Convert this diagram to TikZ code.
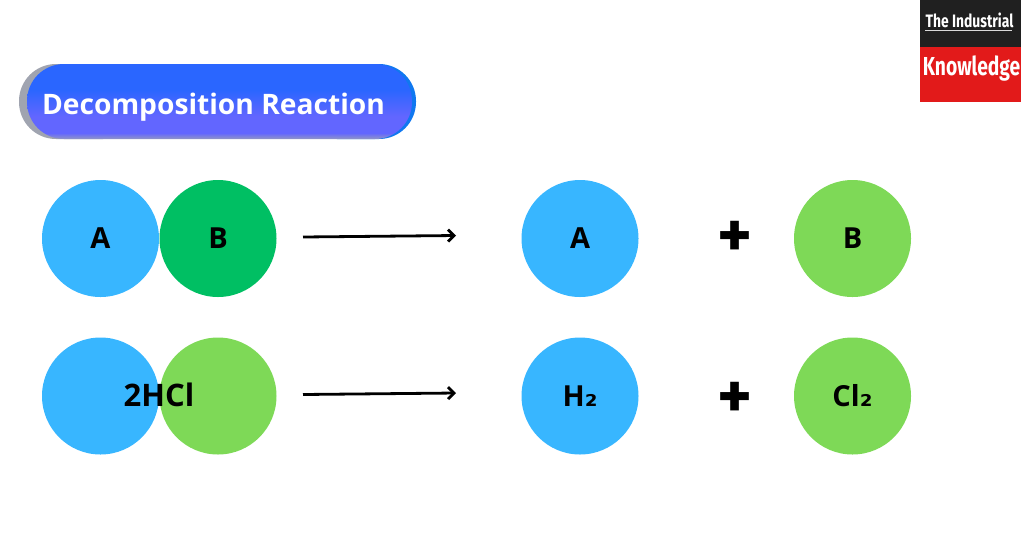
\documentclass[tikz,border=0pt]{standalone}
\usepackage{fontspec}
\setmainfont{Open Sans}
\newfontfamily\logofont{Fira Sans}
\newfontfamily\subfont{DejaVu Sans}
\newcommand*{\subtwo}{{\subfont\bfseries ₂}}
\usetikzlibrary{arrows.meta}
\definecolor{atomblue}{HTML}{38B6FF}
\definecolor{atomdeep}{HTML}{00BF63}
\definecolor{atomlime}{HTML}{7ED957}
\definecolor{logored}{HTML}{E21A1A}
\definecolor{logoblack}{HTML}{202020}
\definecolor{pilltop}{HTML}{2A66FF}
\definecolor{pillmid}{HTML}{6266FF}
\definecolor{pilllow}{HTML}{9296C4}
\definecolor{pillgrey}{HTML}{A0A4B0}
\definecolor{pillend}{HTML}{1078F0}
\pgfdeclareverticalshading{pillfill}{100bp}{color(0bp)=(pilllow); color(25bp)=(pilllow);
  color(29bp)=(pillmid); color(40bp)=(pillmid); color(58bp)=(pilltop); color(100bp)=(pilltop)}
\tikzset{>={Straight Barb[length=6pt,width=12pt]},
  atom/.style={circle,minimum size=117pt,inner sep=0pt,font=\fontsize{29}{29}\selectfont\bfseries},
  react/.style={->,line width=2.8pt,black},
  plus/.style={inner sep=0pt,font=\logofont\fontsize{66}{66}\selectfont\bfseries},
  logotext/.style={inner sep=0pt,text=white}}
\begin{document}
\begin{tikzpicture}[x=1pt,y=-1pt]
\useasboundingbox (0,0) rectangle (1024,536);
% title pill
\fill[pillgrey,rounded corners=37pt] (19,64) rectangle (140,139);
\fill[pillend,rounded corners=37pt] (300,64) rectangle (416,139);
\path[shading=pillfill,rounded corners=37pt] (27,64) rectangle (412,139);
\node[inner sep=0pt,text=white,font=\fontsize{28.2}{28}\selectfont\bfseries] (title) at (213.5,107) {Decomposition Reaction};
% logo
\fill[logoblack] (920,0) rectangle (1021,46.5);
\fill[logored] (920,46.5) rectangle (1021,102);
\node[logotext,xscale=.77,font=\logofont\bfseries\fontsize{18}{18}\selectfont] (logotop) at (969.5,20) {The Industrial};
\node[logotext,xscale=.74,font=\logofont\bfseries\fontsize{26}{26}\selectfont] (logobot) at (971.5,69) {Knowledge};
\coordinate (rule1) at (925,30.5);
\coordinate (rule2) at (1012,30.5);
\draw[white!85!black,line width=1pt] (rule1) -- (rule2);
% top row
\node[atom,fill=atomblue] (a1) at (100.5,238.5) {A};
\node[atom,fill=atomdeep] (b1) at (218,238.5) {B};
\node[atom,fill=atomblue] (a2) at (580,238.5) {A};
\node[plus] (plus1) at (735.5,239) {+};
\node[atom,fill=atomlime] (b2) at (852.5,238.5) {B};
\coordinate (s1) at (303,237);
\coordinate (e1) at (456,235.5);
\draw[react] (s1) -- (e1);
% bottom row
\node[atom,fill=atomblue] (h1) at (100.5,396) {};
\node[atom,fill=atomlime] (c1) at (218,396) {};
\node[inner sep=0pt,font=\fontsize{31}{31}\selectfont\bfseries] (hcl) at (159,395) {2HCl};
\node[atom,fill=atomblue] (h2) at (580,396) {H\subtwo};
\node[plus] (plus2) at (735.5,400) {+};
\node[atom,fill=atomlime] (c2) at (852.5,396) {Cl\subtwo};
\coordinate (s2) at (303,394.5);
\coordinate (e2) at (456,393);
\draw[react] (s2) -- (e2);
\end{tikzpicture}
\end{document}
